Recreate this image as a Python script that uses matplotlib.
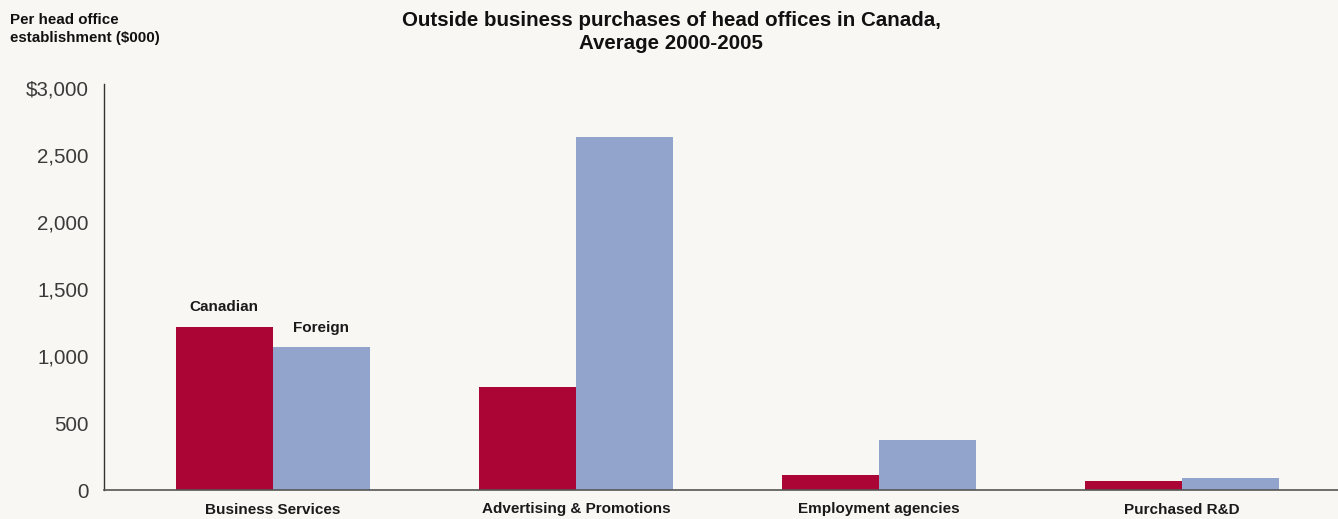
import numpy as np
import matplotlib
matplotlib.use("Agg")
from matplotlib import pyplot as plt
from matplotlib.ticker import FuncFormatter

categories = ["Business Services", "Advertising & Promotions",
              "Employment agencies", "Purchased R&D"]
canadian = [1220, 765, 115, 70]
foreign = [1065, 2635, 370, 92]
series_names = ["Canadian", "Foreign"]
y_ticks = [0, 500, 1000, 1500, 2000, 2500, 3000]

BG = "#f8f7f3"
RED = "#aa0534"
BLUE = "#93a4cc"

plt.rcParams['font.family'] = ['Liberation Sans', 'DejaVu Sans']

fig = plt.figure(figsize=(13.38, 5.19), dpi=100, facecolor=BG)
ax = fig.add_axes([104 / 1338, 29 / 519, 1 - 104 / 1338, 406 / 519])
ax.set_facecolor(BG)

x = np.arange(len(categories))
w = 0.32
b1 = ax.bar(x - w / 2, canadian, w, color=RED, zorder=2)
b2 = ax.bar(x + w / 2, foreign, w, color=BLUE, zorder=2)

# series labels above first group
for bars, name in zip((b1, b2), series_names):
    r = bars[0]
    ax.annotate(name, (r.get_x() + r.get_width() / 2, r.get_height()),
                xytext=(0, 14), textcoords="offset points",
                ha="center", va="center", fontsize=11, fontweight="bold",
                color="#1a1a1a")

ax.set_xlim(-0.557, 3.515)
ax.set_ylim(0, 3030)
ax.set_yticks(y_ticks)
ax.yaxis.set_major_formatter(FuncFormatter(
    lambda v, p: "$3,000" if v == 3000 else ("0" if v == 0 else f"{int(v):,}")))
ax.set_xticks(x)
ax.set_xticklabels(categories, fontsize=11, fontweight="bold", color="#1a1a1a")
ax.tick_params(axis="y", length=0, pad=11, labelsize=14.8, labelcolor="#3a3a3a")
ax.tick_params(axis="x", length=0, pad=9)

for s in ("top", "right"):
    ax.spines[s].set_visible(False)
ax.spines["left"].set_color("#333333")
ax.spines["bottom"].set_color("#555555")
ax.spines["left"].set_linewidth(1.0)
ax.spines["bottom"].set_linewidth(1.2)

fig.text(0.5015, 1 - 32 / 519, "Outside business purchases of head offices in Canada,\nAverage 2000-2005",
         ha="center", va="center", fontsize=14.8, fontweight="bold",
         color="#111111", linespacing=1.33)
fig.text(10 / 1338, 1 - 29 / 519, "Per head office\nestablishment ($000)",
         ha="left", va="center", fontsize=10.9, fontweight="bold",
         color="#111111", linespacing=1.38)

fig.savefig("out.png", dpi=100, facecolor=BG)
